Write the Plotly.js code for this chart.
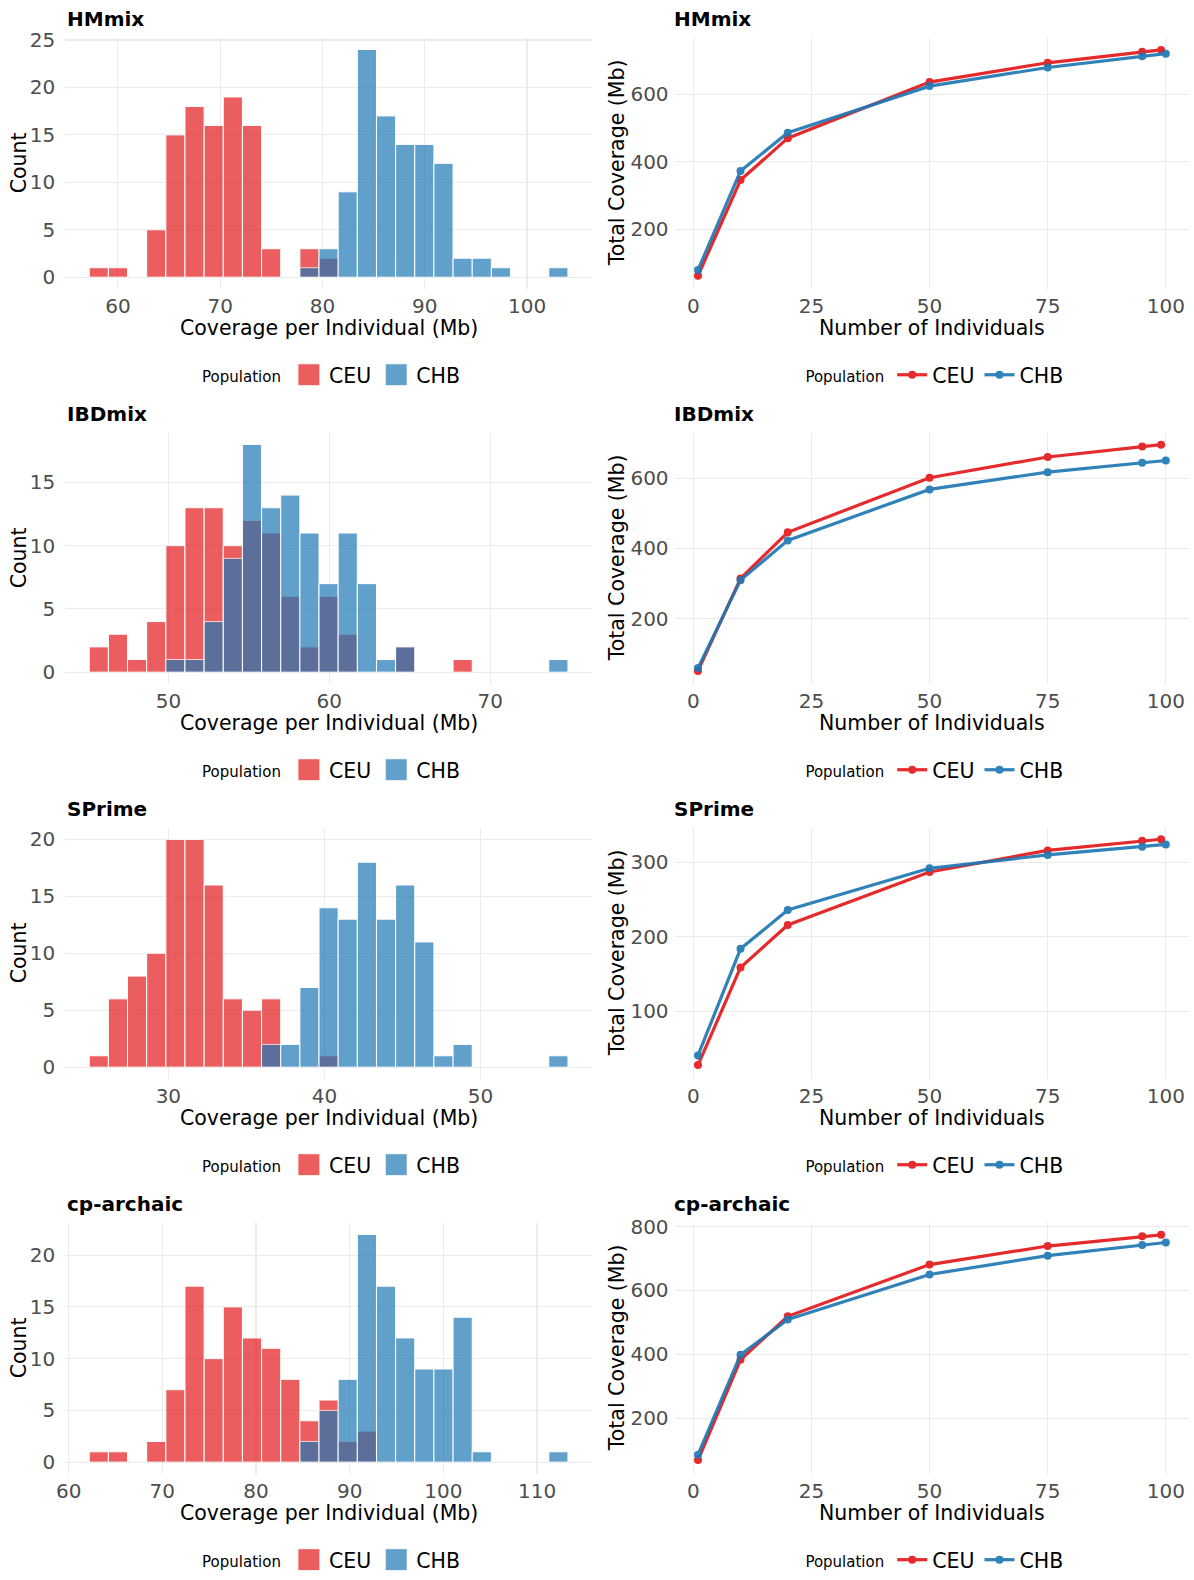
<!DOCTYPE html>
<html><head><meta charset="utf-8">
<script src="https://cdn.plot.ly/plotly-3.0.1.min.js"></script>
<style>html,body{margin:0;padding:0;background:#fff}#chart{width:1194px;height:1580px}</style>
</head><body><div id="chart"></div>
<script>
// ---------------- data ----------------
const methods = ['HMmix', 'IBDmix', 'SPrime', 'cp-archaic'];
const populations = ['CEU', 'CHB'];

// histogram bins (Coverage per Individual, Mb): first bin left edge and bin width
const hmmixBinStart = 57.2, hmmixBinWidth = 1.872;
const hmmixCountCEU = [1,1,0,5,15,18,16,19,16,3,0,3,2,0,0,0,0,0,0,0,0,0,0,0,0];
const hmmixCountCHB = [0,0,0,0,0,0,0,0,0,0,0,1,3,9,24,17,14,14,12,2,2,1,0,0,1];

const ibdmixBinStart = 45.08, ibdmixBinWidth = 1.19;
const ibdmixCountCEU = [2,3,1,4,10,13,13,10,12,11,6,2,6,3,0,0,2,0,0,1,0,0,0,0,0];
const ibdmixCountCHB = [0,0,0,0,1,1,4,9,18,13,14,11,7,11,7,1,2,0,0,0,0,0,0,0,1];

const sprimeBinStart = 24.93, sprimeBinWidth = 1.227;
const sprimeCountCEU = [1,6,8,10,20,20,16,6,5,6,0,0,1,0,0,0,0,0,0,0,0,0,0,0,0];
const sprimeCountCHB = [0,0,0,0,0,0,0,0,0,2,2,7,14,13,18,13,16,11,1,2,0,0,0,0,1];

const cparchaicBinStart = 62.2, cparchaicBinWidth = 2.044;
const cparchaicCountCEU = [1,1,0,2,7,17,10,15,12,11,8,4,6,2,3,0,0,0,0,0,0,0,0,0,0];
const cparchaicCountCHB = [0,0,0,0,0,0,0,0,0,0,0,2,5,8,22,17,12,9,9,14,1,0,0,0,1];

// cumulative total coverage (Mb) vs number of individuals
const nIndividualsCEU = [1, 10, 20, 50, 75, 95, 99];
const nIndividualsCHB = [1, 10, 20, 50, 75, 95, 100];
const hmmixTotalCEU = [63, 346, 470, 636, 693, 726, 731];
const hmmixTotalCHB = [80, 373, 486, 624, 679, 712, 720];
const ibdmixTotalCEU = [52, 315, 446, 601, 660, 690, 695];
const ibdmixTotalCHB = [60, 310, 423, 568, 617, 644, 650];
const sprimeTotalCEU = [28, 159, 216, 287, 316, 329, 331];
const sprimeTotalCHB = [41, 184, 236, 292, 310, 321, 324];
const cparchaicTotalCEU = [69, 383, 519, 681, 739, 770, 774];
const cparchaicTotalCHB = [86, 399, 509, 650, 709, 742, 750];

// ---------------- layout helpers ----------------
const W = 1194, H = 1580;
const FONT = 'DejaVu Sans';
const colCEU = '#E31A1C', colCHB = '#1F78B4';
const histSets = [
  {start: hmmixBinStart, w: hmmixBinWidth, ceu: hmmixCountCEU, chb: hmmixCountCHB, yr: [-1.2, 25.2], ydt: 5},
  {start: ibdmixBinStart, w: ibdmixBinWidth, ceu: ibdmixCountCEU, chb: ibdmixCountCHB, yr: [-0.9, 18.9], ydt: 5},
  {start: sprimeBinStart, w: sprimeBinWidth, ceu: sprimeCountCEU, chb: sprimeCountCHB, yr: [-1, 21], ydt: 5},
  {start: cparchaicBinStart, w: cparchaicBinWidth, ceu: cparchaicCountCEU, chb: cparchaicCountCHB, yr: [-1.1, 23.1], ydt: 5}
];
const lineSets = [
  {ceu: hmmixTotalCEU, chb: hmmixTotalCHB, yr: [25, 766], ydt: 200},
  {ceu: ibdmixTotalCEU, chb: ibdmixTotalCHB, yr: [16, 728], ydt: 200},
  {ceu: sprimeTotalCEU, chb: sprimeTotalCHB, yr: [10, 346], ydt: 100},
  {ceu: cparchaicTotalCEU, chb: cparchaicTotalCHB, yr: [27, 811], ydt: 200}
];

const colL = [65.3, 591.9], colR = [674.6, 1189.2];
const rowTop0 = 38.4, rowBot0 = 290.8, rowStep = 398;

const traces = [];
const layout = {
  width: W, height: H,
  margin: {l: 0, r: 0, t: 0, b: 0},
  paper_bgcolor: '#ffffff', plot_bgcolor: '#ffffff',
  barmode: 'overlay',
  font: {family: FONT, color: '#000000'},
  annotations: [],
  showlegend: true
};

function axisBase(range, dtick, standoff) {
  return {
    range: range, dtick: dtick, tick0: 0,
    showgrid: true, gridcolor: '#EBEBEB', gridwidth: 1.1,
    zeroline: false, showline: false, ticks: '',
    ticklabelstandoff: standoff,
    tickfont: {family: FONT, size: 20, color: '#4D4D4D'},
    fixedrange: true, automargin: false
  };
}

function binCenters(start, w, n) {
  const out = [];
  for (let i = 0; i < n; i++) out.push(start + w * (i + 0.5));
  return out;
}

for (let k = 0; k < 4; k++) {
  const top = rowTop0 + rowStep * k, bot = rowBot0 + rowStep * k;
  const yDom = [1 - bot / H, 1 - top / H];
  const iH = 2 * k + 1, iL = 2 * k + 2;
  const sfxH = iH === 1 ? '' : String(iH), sfxL = String(iL);
  const legH = iH === 1 ? 'legend' : 'legend' + iH, legL = 'legend' + iL;

  // ---- histogram ----
  const hs = histSets[k];
  const centers = binCenters(hs.start, hs.w, hs.ceu.length);
  [[hs.ceu, colCEU, 'CEU'], [hs.chb, colCHB, 'CHB']].forEach(([cnt, col, name]) => {
    const xs = [], ys = [];
    cnt.forEach((c, i) => { if (c > 0) { xs.push(centers[i]); ys.push(c); } });
    traces.push({
      type: 'bar', x: xs, y: ys, width: hs.w, name: name,
      xaxis: 'x' + sfxH, yaxis: 'y' + sfxH, legend: legH,
      marker: {color: col, line: {color: '#ffffff', width: 1}},
      opacity: 0.7, hoverinfo: 'x+y'
    });
  });
  const xLo = hs.start, xHi = hs.start + hs.w * hs.ceu.length, ex = (xHi - xLo) * 0.05;
  layout['xaxis' + sfxH] = Object.assign(axisBase([xLo - ex, xHi + ex], 10, 3),
    {domain: [colL[0] / W, colL[1] / W], anchor: 'y' + sfxH, tick0: 0});
  layout['yaxis' + sfxH] = Object.assign(axisBase(hs.yr, hs.ydt, 9),
    {domain: yDom, anchor: 'x' + sfxH});

  // ---- line chart ----
  const ls = lineSets[k];
  [[nIndividualsCEU, ls.ceu, colCEU, 'CEU'], [nIndividualsCHB, ls.chb, colCHB, 'CHB']].forEach(([xs, ys, col, name]) => {
    traces.push({
      type: 'scatter', mode: 'lines+markers', x: xs, y: ys, name: name,
      xaxis: 'x' + sfxL, yaxis: 'y' + sfxL, legend: legL,
      line: {color: col, width: 3.2}, marker: {color: col, size: 8},
      opacity: 0.92
    });
  });
  layout['xaxis' + sfxL] = Object.assign(axisBase([-3.95, 104.95], 25, 3),
    {domain: [colR[0] / W, colR[1] / W], anchor: 'y' + sfxL});
  layout['yaxis' + sfxL] = Object.assign(axisBase(ls.yr, ls.ydt, 5),
    {domain: yDom, anchor: 'x' + sfxL});

  // ---- legends ----
  const legY = 1 - (377.8 + rowStep * k) / H;
  [[legH, (colL[0] + colL[1]) / 2 + 4], [legL, (colR[0] + colR[1]) / 2 + 4]].forEach(([lg, cx]) => {
    layout[lg] = {
      orientation: 'h', x: cx / W, xanchor: 'center', y: legY, yanchor: 'middle',
      bgcolor: 'rgba(0,0,0,0)', borderwidth: 0,
      font: {family: FONT, size: 20.5, color: '#000000'},
      title: {text: '<span style="font-size:15px">Population</span>', side: 'left',
              font: {family: FONT, size: 20.5, color: '#000000'}},
      itemwidth: 30, traceorder: 'normal'
    };
  });

  // ---- titles ----
  const tY = 1 - (19.1 + rowStep * k) / H;
  layout.annotations.push(
    {text: '<b>' + methods[k] + '</b>', xref: 'paper', yref: 'paper', x: 64.5 / W, y: tY,
     xanchor: 'left', yanchor: 'middle', showarrow: false, font: {family: FONT, size: 20, color: '#000000'}},
    {text: '<b>' + methods[k] + '</b>', xref: 'paper', yref: 'paper', x: 672 / W, y: tY,
     xanchor: 'left', yanchor: 'middle', showarrow: false, font: {family: FONT, size: 20, color: '#000000'}}
  );
  const axY = 1 - (330.5 + rowStep * k) / H;
  layout.annotations.push(
    {text: 'Coverage per Individual (Mb)', xref: 'paper', yref: 'paper', x: (colL[0] + colL[1]) / 2 / W, y: axY,
     xanchor: 'center', yanchor: 'middle', showarrow: false, font: {family: FONT, size: 20.5, color: '#000000'}},
    {text: 'Number of Individuals', xref: 'paper', yref: 'paper', x: (colR[0] + colR[1]) / 2 / W, y: axY,
     xanchor: 'center', yanchor: 'middle', showarrow: false, font: {family: FONT, size: 20.5, color: '#000000'}}
  );
  const midY = 1 - ((top + bot) / 2) / H;
  layout.annotations.push(
    {text: 'Count', xref: 'paper', yref: 'paper', x: 19 / W, y: midY, textangle: -90,
     xanchor: 'center', yanchor: 'middle', showarrow: false, font: {family: FONT, size: 20.5, color: '#000000'}},
    {text: 'Total Coverage (Mb)', xref: 'paper', yref: 'paper', x: 617 / W, y: midY, textangle: -90,
     xanchor: 'center', yanchor: 'middle', showarrow: false, font: {family: FONT, size: 20.5, color: '#000000'}}
  );
}

function enlargeLegendKeys() {
  document.querySelectorAll('#chart g.legendpoints path').forEach(p => {
    const d = p.getAttribute('d') || '';
    if (d.replace(/\s/g, '') === 'M6,6H-6V-6H6Z') p.setAttribute('d', 'M11,11H-11V-11H11Z');
  });
}
Plotly.newPlot('chart', traces, layout, {staticPlot: true, displayModeBar: false}).then(() => {
  enlargeLegendKeys();
  setTimeout(enlargeLegendKeys, 50);
});
</script></body></html>
